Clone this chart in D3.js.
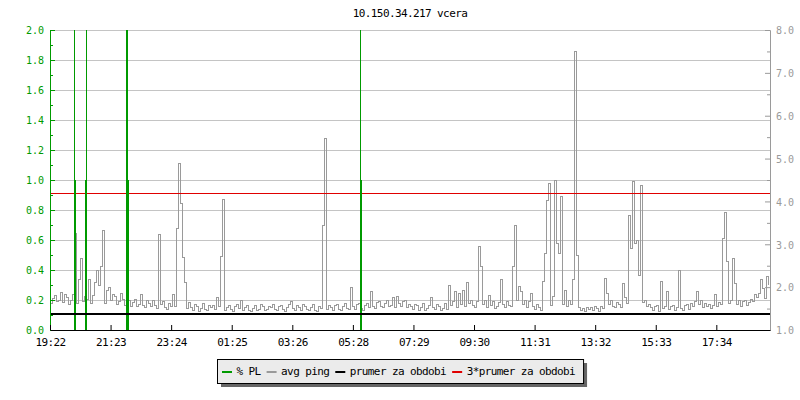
<!DOCTYPE html>
<html>
<head>
<script src="https://cdn.jsdelivr.net/npm/d3@7"></script>
<style>
    body { margin: 0; background: #fff; }
    svg { display: block; }
    text { font-family: "DejaVu Sans Mono", monospace; }
    .big { font-size: 11px; letter-spacing: -0.6px; }
    .small { font-size: 10px; }
</style>
</head>
<body>
<div id="chart"></div>
<script>
// values
var title = "10.150.34.217 vcera";

// avg ping in ms, one sample every 4 minutes from 19:22
var pingStep = 4;
var pingMs = [
    1.62,1.74,1.80,1.66,1.70,1.88,1.64,1.82,1.76,1.60,
    1.70,1.84,3.26,1.62,2.17,2.66,1.66,1.78,1.72,2.19,
    1.62,1.80,2.10,2.40,2.05,2.49,3.32,1.62,1.93,2.00,
    1.70,1.84,1.78,1.60,1.66,1.86,1.72,1.58,1.80,1.68,
    1.56,1.64,1.72,1.54,1.60,1.84,1.58,1.52,1.70,1.62,
    1.54,1.68,1.58,1.50,3.24,1.60,1.66,1.52,1.48,1.62,
    1.56,1.84,1.54,3.38,4.89,3.96,2.70,2.10,1.50,1.64,
    1.52,1.46,1.60,1.56,1.44,1.50,1.62,1.48,1.45,1.57,
    1.52,1.58,1.48,1.75,1.55,2.71,4.05,1.46,1.53,1.58,
    1.47,1.44,1.55,1.60,1.50,1.68,1.45,1.52,1.58,1.46,
    1.44,1.51,1.57,1.46,1.49,1.60,1.54,1.45,1.48,1.56,
    1.52,1.60,1.47,1.45,1.55,1.58,1.49,1.44,1.53,1.60,
    1.66,1.50,1.45,1.57,1.52,1.46,1.60,1.55,1.47,1.45,
    1.53,1.59,1.46,1.44,1.55,1.50,3.45,5.46,1.47,1.57,
    1.52,1.46,1.58,1.60,1.49,1.45,1.55,1.62,1.50,1.47,
    1.99,1.55,1.48,1.60,1.63,1.50,1.46,1.58,1.62,1.52,
    1.91,1.56,1.50,1.64,1.66,1.54,1.52,1.62,1.68,1.55,
    1.58,1.75,1.52,1.78,1.62,1.55,1.66,1.68,1.53,1.60,
    1.54,1.48,1.60,1.57,1.46,1.52,1.62,1.45,1.50,1.58,
    1.75,1.52,1.47,1.60,1.56,1.45,1.50,1.62,1.48,2.05,
    1.58,1.66,1.89,1.52,1.86,1.60,1.93,1.55,2.10,1.62,
    1.68,1.57,1.53,1.66,2.96,2.48,1.60,1.68,1.52,1.80,
    1.58,1.66,1.50,1.55,1.64,2.17,1.60,1.52,1.66,1.58,
    1.54,2.48,3.43,1.70,2.01,1.89,1.60,1.68,1.52,1.66,
    1.86,1.55,1.48,1.60,1.52,1.46,2.13,2.79,4.03,4.42,
    1.58,1.78,4.48,3.02,2.79,4.11,1.60,1.93,1.54,1.68,
    1.60,2.17,7.51,2.75,1.52,1.46,1.50,1.44,1.53,1.48,
    1.52,1.46,1.55,1.50,1.44,1.56,1.50,2.21,1.85,1.60,
    1.68,1.55,1.52,1.64,1.60,1.52,2.09,1.75,1.62,3.68,
    2.91,4.46,3.02,3.10,2.28,4.38,1.64,1.68,1.54,1.60,
    1.52,1.46,1.55,1.57,1.44,2.13,1.50,1.56,1.89,1.47,
    1.55,1.58,1.45,1.52,2.38,1.50,1.46,1.57,1.60,1.48,
    1.62,1.55,1.66,1.91,1.60,1.68,1.52,1.62,1.56,1.60,
    1.50,1.58,1.82,1.54,1.64,1.60,3.14,3.74,2.59,1.62,
    1.68,2.66,2.09,1.60,1.68,1.56,1.66,1.70,1.58,1.64,
    1.72,1.66,1.82,1.76,1.86,2.17,1.97,1.74,2.26,2.05
];

// packet loss samples (minute from start, percent), zero elsewhere
var plMinute = [48, 50, 70, 72, 152, 154, 156, 620, 622];
var plPercent = [5, 1, 1, 5, 5, 5, 1, 5, 1];

var avgPing = 1.38;       // prumer za obdobi
var avgPing3 = 4.19;      // 3*prumer za obdobi

var timeTickStep = 121.15; // minutes between labels
var timeLabels = ["19:22", "21:23", "23:24", "01:25", "03:26", "05:28",
    "07:29", "09:30", "11:31", "13:32", "15:33", "17:34"];

var legendNames = ["% PL", "avg ping", "prumer za obdobi", "3*prumer za obdobi"];
var legendColors = ["#009a00", "#9a9a9a", "#000000", "#e00000"];

var green = "#009a00", gray = "#9a9a9a";

var margin = { top: 30, right: 30, bottom: 70, left: 50 },
    width = 800 - margin.left - margin.right,
    height = 400 - margin.top - margin.bottom;

var x = d3.scaleLinear().domain([0, 1440]).range([0, width]);
var yL = d3.scaleLinear().domain([0, 2]).range([height, 0]);
var yR = d3.scaleLinear().domain([1, 8]).range([height, 0]);

var svg = d3.select("#chart").append("svg")
    .attr("width", 800)
    .attr("height", 400);

svg.append("text")
    .attr("class", "big")
    .attr("x", margin.left + width / 2)
    .attr("y", 17)
    .style("text-anchor", "middle")
    .text(title);

var g = svg.append("g")
    .attr("transform", "translate(" + margin.left + "," + margin.top + ")");

g.append("clipPath").attr("id", "plot")
    .append("rect").attr("width", width).attr("height", height);

// grid
g.append("g").selectAll("line")
    .data(d3.range(1, 11).map(function(d) { return d * 0.2; }))
    .enter().append("line")
    .attr("x1", 0).attr("x2", width)
    .attr("y1", function(d) { return Math.round(yL(d)) + 0.5; })
    .attr("y2", function(d) { return Math.round(yL(d)) + 0.5; })
    .style("stroke", "#c4c4c4");

var plot = g.append("g").attr("clip-path", "url(#plot)");

// avg ping
var pingLine = d3.line()
    .x(function(d, i) { return x(i * pingStep) + 0.5; })
    .y(function(d) { return yR(d); })
    .curve(d3.curveStepAfter);

plot.append("path")
    .datum(pingMs)
    .attr("d", pingLine)
    .style("fill", "none")
    .style("stroke", gray)
    .style("stroke-width", 1)
    .style("shape-rendering", "crispEdges");

// 3*prumer
plot.append("line")
    .attr("x1", 0).attr("x2", width)
    .attr("y1", Math.round(yR(avgPing3)) + 0.5)
    .attr("y2", Math.round(yR(avgPing3)) + 0.5)
    .style("stroke", "#e00000");

// % PL
plot.selectAll(".pl")
    .data(plMinute)
    .enter().append("rect")
    .attr("class", "pl")
    .attr("x", function(d) { return x(d); })
    .attr("width", 1)
    .attr("y", function(d, i) { return yL(plPercent[i]); })
    .attr("height", function(d, i) { return yL(0) - yL(plPercent[i]); })
    .style("fill", green);

// prumer
plot.append("line")
    .attr("x1", 0).attr("x2", width)
    .attr("y1", Math.round(yR(avgPing)))
    .attr("y2", Math.round(yR(avgPing)))
    .style("stroke", "#000")
    .style("stroke-width", 2);

// left axis
var left = g.append("g")
    .call(d3.axisLeft(yL)
        .tickValues(d3.range(0, 11).map(function(d) { return d * 0.2; }))
        .tickFormat(d3.format(".1f"))
        .tickSize(-5).tickSizeOuter(0).tickPadding(6));
left.append("g")
    .call(d3.axisLeft(yL)
        .tickValues(d3.range(0, 10).map(function(d) { return d * 0.2 + 0.1; }))
        .tickFormat("").tickSize(-3).tickSizeOuter(0));
left.selectAll("path, line").style("stroke", green);
left.selectAll("text").attr("class", "small").style("fill", green).attr("dy", "0.38em");

// right axis
var right = g.append("g")
    .attr("transform", "translate(" + width + ",0)")
    .call(d3.axisRight(yR)
        .tickValues(d3.range(1, 9))
        .tickFormat(d3.format(".1f"))
        .tickSize(-5).tickSizeOuter(0).tickPadding(6));
right.append("g")
    .call(d3.axisRight(yR)
        .tickValues(d3.range(1, 8).map(function(d) { return d + 0.5; }))
        .tickFormat("").tickSize(-3).tickSizeOuter(0));
right.selectAll("path, line").style("stroke", gray);
right.selectAll("text").attr("class", "small").style("fill", gray).attr("dy", "0.38em");

// bottom axis
var bottom = g.append("g")
    .attr("transform", "translate(0," + height + ")")
    .call(d3.axisBottom(x)
        .tickValues(timeLabels.map(function(d, i) { return i * timeTickStep; }))
        .tickFormat(function(d, i) { return timeLabels[i]; })
        .tickSize(-5).tickSizeOuter(0).tickPadding(8));
bottom.selectAll("path, line").style("stroke", "#000");
bottom.selectAll("text").attr("class", "big").style("fill", "#000");

// legend
var leg = svg.append("g");
var lx = 0;
legendNames.forEach(function(name, i) {
    var it = leg.append("g");
    it.append("rect")
        .attr("x", lx).attr("y", 371)
        .attr("width", 10).attr("height", 2)
        .style("fill", legendColors[i]);
    var t = it.append("text")
        .attr("class", "big")
        .attr("x", lx + 14.5).attr("y", 375)
        .text(name);
    lx += 14.5 + t.node().getComputedTextLength() + 6;
});
var legW = lx - 6 + 13;
var legX = Math.round(400 - legW / 2);
leg.insert("rect", ":first-child")
    .attr("x", legX + 0.5).attr("y", 359.5)
    .attr("width", legW).attr("height", 24)
    .style("fill", "#ebebeb").style("stroke", "#000");
leg.insert("rect", ":first-child")
    .attr("x", legX + 4).attr("y", 363)
    .attr("width", legW).attr("height", 24)
    .style("fill", "#666");
leg.selectAll("g").attr("transform", "translate(" + (legX + 5) + ",0)");
</script>
</body>
</html>
